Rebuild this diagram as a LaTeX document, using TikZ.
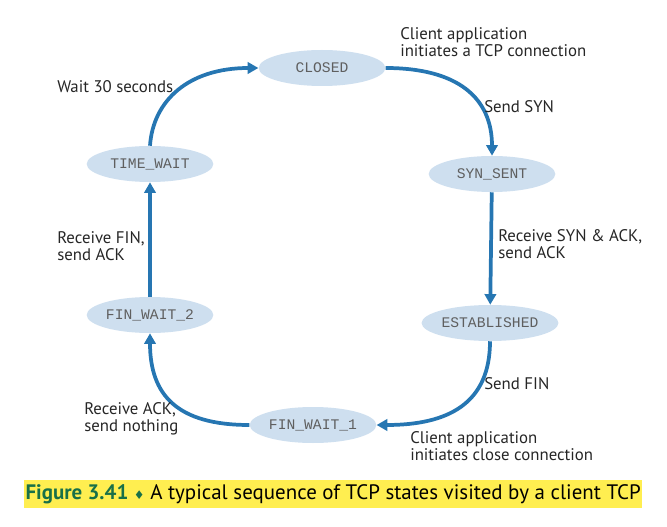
\documentclass[tikz,border=0pt]{standalone}
\usepackage{fontspec}
\usepackage{xcolor}
\usepackage{tikz}
\usetikzlibrary{shapes.geometric,arrows.meta}
\setmainfont{PT Sans}
\newfontfamily\statefont{Liberation Mono}
\newfontfamily\diamondfont{DejaVu Sans}
\definecolor{tcpblue}{RGB}{38,118,178}
\definecolor{statefill}{RGB}{206,223,239}
\definecolor{statetext}{RGB}{95,95,95}
\definecolor{figgreen}{RGB}{24,112,72}
\definecolor{hilite}{RGB}{255,238,80}

\begin{document}
\begin{tikzpicture}[x=0.75pt,y=-0.75pt,
  state/.style={ellipse,fill=statefill,minimum width=95pt,minimum height=27pt,
    inner sep=0pt,font=\statefont\fontsize{11}{12}\selectfont,text=statetext},
  lbl/.style={anchor=west,align=left,inner sep=0pt,text=black!85,
    font=\fontsize{12.6}{12.75}\selectfont},
  flow/.style={line width=2.8pt,tcpblue,-{Triangle[length=8pt,width=8.5pt]}}]
\useasboundingbox (0,0) rectangle (667,527);
% states
\path (322,68) node(closed) [state] {CLOSED}
  (492,174) node(synsent) [state] {SYN\_SENT}
  (490,323) node(estab) [state] {ESTABLISHED}
  (313,425) node(fin1) [state] {FIN\_WAIT\_1}
  (150,315) node(fin2) [state] {FIN\_WAIT\_2}
  (150,164) node(timewait) [state] {TIME\_WAIT};
% transitions
\draw[flow] (closed.east) .. controls +(72,0) and +(0,-58) .. (synsent.north);
\draw[flow] (synsent) -- (estab);
\draw[flow] (estab.south) .. controls +(0,62) and +(72,0) .. (fin1.east);
\draw[flow] (fin1.west) .. controls +(-72,0) and +(0,62) .. (fin2.south);
\draw[flow] (fin2) -- (timewait);
\draw[flow] (timewait.north) .. controls +(3,-45) and +(-70,0) .. (closed.west);
% labels
\path (400,42.5) node(opn) [lbl] {Client application\\initiates a TCP connection}
  (484,107) node(ssyn) [lbl] {Send SYN}
  (498,244.5) node(rsyn) [lbl] {Receive SYN \& ACK,\\send ACK}
  (484,384) node(sfin) [lbl] {Send FIN}
  (410,446) node(cls) [lbl] {Client application\\initiates close connection}
  (84,419) node(rack) [lbl] {Receive ACK,\\send nothing}
  (57,246) node(rfin) [lbl] {Receive FIN,\\send ACK}
  (57,87) node(wait) [lbl] {Wait 30 seconds};
% caption
\node(cap) [anchor=west,fill=hilite,inner xsep=1pt,inner ysep=3pt,
  font=\fontsize{15.7}{17}\selectfont] at (24,494)
  {\textcolor{figgreen}{\textbf{Figure 3.41} {\diamondfont\fontsize{9}{10}\selectfont ♦}} A typical sequence of TCP states visited by a client TCP};
\end{tikzpicture}
\end{document}
